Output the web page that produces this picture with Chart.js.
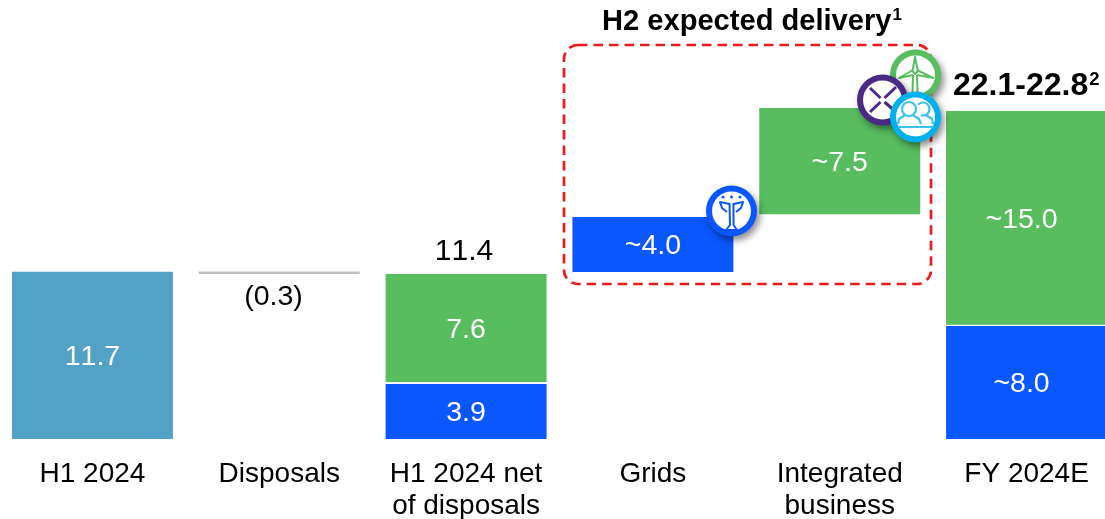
<!DOCTYPE html>
<html>
<head>
<meta charset="utf-8">
<title>H2 expected delivery</title>
<script src="https://cdn.jsdelivr.net/npm/chart.js@4.5.1"></script>
<style>
    html, body { margin: 0; padding: 0; background: #fff; width: 1105px; height: 519px; overflow: hidden; }
    /* die letzte Kategorie läuft im Original über den rechten Rand hinaus */
    #chart { position: absolute; left: -1px; top: 0; }
</style>
</head>
<body>
<canvas id="chart" width="1121" height="519"></canvas>
<script>
const categories = ['H1 2024', 'Disposals', ['H1 2024 net', 'of disposals'], 'Grids', ['Integrated', 'business'], 'FY 2024E'];

// [von, bis] je Kategorie
const tealBars  = [[0, 11.7], null, null, null, null, null];
const greyBars  = [null, [11.54, 11.71], null, null, null, null];
const blueBars  = [null, null, [0, 3.85], [11.68, 15.53], null, [0, 7.9]];
const greenBars = [null, null, [3.99, 11.54], null, [15.72, 23.15], [7.99, 22.94]];

const tealLabels  = ['11.7', '', '', '', '', ''];
const blueLabels  = ['', '', '3.9', '~4.0', '', '~8.0'];
const greenLabels = ['', '', '7.6', '', '~7.5', '~15.0'];

const titleText = 'H2 expected delivery';
const rangeText = '22.1-22.8';
const totalText = '11.4';
const disposalText = '(0.3)';

const FONT = '"Liberation Sans", Arial, sans-serif';
const TEAL = '#52a2c6', GREY = '#bfbfbf', BLUE = '#0a57ff', GREEN = '#57bd5f';
const PURPLE = '#4b2a86', CYAN = '#00b1eb', RED = '#e81c1c';

function barDataset(data, color, labels) {
    return {
        data: data,
        backgroundColor: color,
        borderWidth: 0,
        borderSkipped: false,
        barPercentage: 0.8617,
        categoryPercentage: 1,
        valueLabels: labels
    };
}

// Text in den Balken (kein datalabels-Plugin vorhanden)
const barLabels = {
    id: 'barLabels',
    beforeDraw(chart) {
        chart.ctx.fontKerning = 'none';
    },
    afterDatasetsDraw(chart) {
        const ctx = chart.ctx;
        ctx.save();
        ctx.fillStyle = '#fff';
        ctx.font = '28.5px ' + FONT;
        ctx.textAlign = 'center';
        ctx.textBaseline = 'middle';
        chart.data.datasets.forEach((ds, i) => {
            if (!ds.valueLabels) return;
            chart.getDatasetMeta(i).data.forEach((bar, idx) => {
                const text = ds.valueLabels[idx];
                // im Original sitzt die FY-Beschriftung etwas links der Mitte
                const shift = idx === 5 ? -5 : 0;
                if (text) ctx.fillText(text, bar.x + shift, (bar.y + bar.base) / 2 + 2);
            });
        });
        ctx.restore();
    }
};

function superText(ctx, text, sup, x, y, font, supFont) {
    ctx.textAlign = 'left';
    ctx.textBaseline = 'alphabetic';
    ctx.font = font;
    ctx.fillText(text, x, y);
    const w = ctx.measureText(text).width;
    ctx.font = supFont;
    ctx.fillText(sup, x + w + 1, y - 10);
}

function badge(ctx, cx, cy, color) {
    ctx.save();
    ctx.shadowColor = 'rgba(0,0,0,0.45)';
    ctx.shadowBlur = 7;
    ctx.shadowOffsetX = 3;
    ctx.shadowOffsetY = 4;
    ctx.fillStyle = color;
    ctx.beginPath();
    ctx.arc(cx, cy, 25.5, 0, Math.PI * 2);
    ctx.fill();
    ctx.restore();
    ctx.fillStyle = '#fff';
    ctx.beginPath();
    ctx.arc(cx, cy, 19.5, 0, Math.PI * 2);
    ctx.fill();
}

function poly(ctx, pts) {
    ctx.beginPath();
    pts.forEach((p, i) => i ? ctx.lineTo(p[0], p[1]) : ctx.moveTo(p[0], p[1]));
    ctx.stroke();
}

function drawTurbine(ctx) {
    badge(ctx, 915.5, 75, GREEN);
    ctx.strokeStyle = GREEN;
    ctx.lineWidth = 2;
    ctx.lineJoin = 'round';
    poly(ctx, [[912.5, 71], [915, 57], [918, 71], [915, 74], [912.5, 71]]);
    poly(ctx, [[913, 70], [899, 78], [913, 75]]);
    poly(ctx, [[917, 70], [933, 78], [917, 75]]);
    poly(ctx, [[913, 75], [912.5, 92]]);
    poly(ctx, [[917, 75], [917.5, 92]]);
}

function drawCross(ctx) {
    badge(ctx, 882.5, 100, PURPLE);
    ctx.strokeStyle = PURPLE;
    ctx.lineWidth = 3;
    poly(ctx, [[870, 112], [880.5, 102]]);
    poly(ctx, [[884.5, 98], [896, 87]]);
    poly(ctx, [[870, 88], [880.5, 98]]);
    poly(ctx, [[884.5, 102], [896, 112]]);
}

function drawPeople(ctx) {
    badge(ctx, 915.5, 117, CYAN);
    ctx.strokeStyle = '#3fc1ee';
    ctx.lineWidth = 2.2;
    ctx.beginPath();
    ctx.arc(923, 109, 6.5, -2.4, 1.9);
    ctx.stroke();
    poly(ctx, [[926, 115], [932, 119], [933, 124]]);
    ctx.beginPath();
    ctx.arc(909, 109, 7, 0, Math.PI * 2);
    ctx.stroke();
    poly(ctx, [[905, 115], [899, 119], [898, 124]]);
    poly(ctx, [[913, 115], [919, 119], [921, 124]]);
    poly(ctx, [[898, 127], [933, 127]]);
}

function drawPylon(ctx) {
    badge(ctx, 731.5, 211, BLUE);
    ctx.fillStyle = BLUE;
    [723, 731.5, 740].forEach(x => {
        ctx.beginPath();
        ctx.arc(x, 197, 1.5, 0, Math.PI * 2);
        ctx.fill();
    });
    ctx.strokeStyle = BLUE;
    ctx.lineWidth = 2;
    poly(ctx, [[729.5, 204], [720, 202], [722, 208], [727, 212]]);
    poly(ctx, [[733.5, 204], [743, 202], [741, 208], [736, 212]]);
    poly(ctx, [[729.5, 203], [730, 225], [726, 230], [737, 230], [733.5, 225], [733.5, 203]]);
}

// Rahmen, Überschriften und Symbole in Seitenkoordinaten
const decorations = {
    id: 'decorations',
    afterDraw(chart) {
        const ctx = chart.ctx;
        ctx.save();
        ctx.translate(1, 0);

        ctx.strokeStyle = RED;
        ctx.lineWidth = 2.7;
        ctx.setLineDash([9.5, 6]);
        ctx.beginPath();
        ctx.roundRect(564, 45, 367, 239, 14);
        ctx.stroke();
        ctx.setLineDash([]);

        ctx.fillStyle = '#000';
        superText(ctx, titleText, '1', 602, 30, 'bold 29.1px ' + FONT, 'bold 17px ' + FONT);
        superText(ctx, rangeText, '2', 953, 95, 'bold 32px ' + FONT, 'bold 18.5px ' + FONT);

        ctx.textAlign = 'center';
        ctx.textBaseline = 'alphabetic';
        ctx.font = '30px ' + FONT;
        ctx.fillText(totalText, 464, 260);
        ctx.font = '28.5px ' + FONT;
        ctx.fillText(disposalText, 273.5, 305);

        drawTurbine(ctx);
        drawCross(ctx);
        drawPeople(ctx);
        drawPylon(ctx);
        ctx.restore();
    }
};

new Chart(document.getElementById('chart'), {
    type: 'bar',
    data: {
        labels: categories,
        datasets: [
            barDataset(tealBars, TEAL, tealLabels),
            barDataset(greyBars, GREY, null),
            barDataset(blueBars, BLUE, blueLabels),
            barDataset(greenBars, GREEN, greenLabels)
        ]
    },
    options: {
        responsive: false,
        animation: false,
        devicePixelRatio: 1,
        layout: { padding: 0 },
        plugins: { legend: { display: false }, tooltip: { enabled: false } },
        scales: {
            x: {
                stacked: true,
                grid: { display: false, drawTicks: false },
                border: { display: false },
                afterFit(scale) { scale.height = 80; },
                ticks: {
                    color: '#000',
                    font: { family: FONT, size: 28, lineHeight: 1.14 },
                    padding: 19,
                    autoSkip: false,
                    maxRotation: 0
                }
            },
            y: {
                display: false,
                min: 0,
                max: 30.7
            }
        }
    },
    plugins: [barLabels, decorations]
});
</script>
</body>
</html>
